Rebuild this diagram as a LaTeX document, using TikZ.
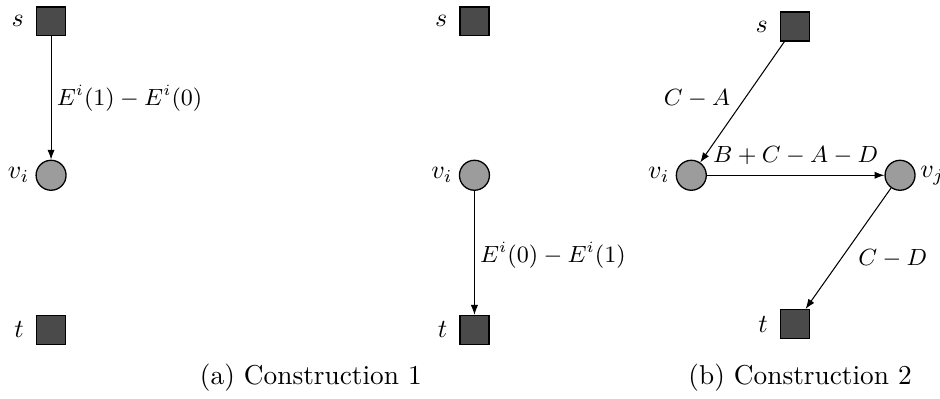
\documentclass[tikz,border=0pt]{standalone}
\usepackage{amsmath,amssymb}
\usepackage{tikz}
\usetikzlibrary{arrows.meta,positioning,calc}
\definecolor{termGray}{HTML}{4A4A4A}
\definecolor{vertGray}{HTML}{9C9C9C}

\begin{document}
\begin{tikzpicture}[
  term/.style={rectangle,draw=black,fill=termGray,line width=0.5pt,minimum size=3.9mm,inner sep=0pt},
  vert/.style={circle,draw=black,fill=vertGray,line width=0.5pt,minimum size=4.05mm,inner sep=0pt},
  flow/.style={draw=black,line width=0.4pt,-{Latex[length=3.8pt,width=2.8pt]}},
  weight/.style={font=\small,inner sep=2pt},
  captext/.style={font=\fontsize{10.5}{12}\selectfont}
]
\useasboundingbox (0,0) rectangle (12.70,5.378);
% (a) construction 1
\node[term,label={[label distance=0.4mm]left:$s$}] (s1) at (0.69,5.09) {};
\node[vert,label={[label distance=-0.4mm]left:$v_i$}] (v1) at (0.69,3.01) {};
\node[term,label={[label distance=0.4mm]left:$t$}] (t1) at (0.69,0.92) {};
\node[term,label={[label distance=0.4mm]left:$s$}] (s2) at (6.41,5.09) {};
\node[vert,label={[label distance=-0.4mm]left:$v_i$}] (v2) at (6.41,3.01) {};
\node[term,label={[label distance=0.4mm]left:$t$}] (t2) at (6.41,0.92) {};
\draw[flow] (s1) -- node[weight,right,pos=0.5] {$E^i(1)-E^i(0)$} (v1);
\draw[flow] (v2) -- node[weight,right,pos=0.52] {$E^i(0)-E^i(1)$} (t2);
\node[captext] (capA) at (4.20,0.27) {(a) Construction 1};
% (b) construction 2
\node[term,label={[label distance=0.4mm]left:$s$}] (s3) at (10.74,5.02) {};
\node[vert,label={[label distance=-0.4mm]left:$v_i$}] (vi3) at (9.34,3.01) {};
\node[vert,label={[label distance=-0.6mm]right:$v_j$}] (vj3) at (12.16,3.01) {};
\node[term,label={[label distance=0.4mm]left:$t$}] (t3) at (10.74,1.00) {};
\draw[flow] (s3) -- node[weight,left,pos=0.55,xshift=-0.3mm,yshift=1.3mm] {$C-A$} (vi3);
\draw[flow] (vi3) -- node[weight,above,pos=0.5,yshift=0.6mm] {$B+C-A-D$} (vj3);
\draw[flow] (vj3) -- node[weight,right,pos=0.5,xshift=0.6mm,yshift=-1.3mm] {$C-D$} (t3);
\node[captext] (capB) at (10.81,0.27) {(b) Construction 2};
\end{tikzpicture}
\end{document}
